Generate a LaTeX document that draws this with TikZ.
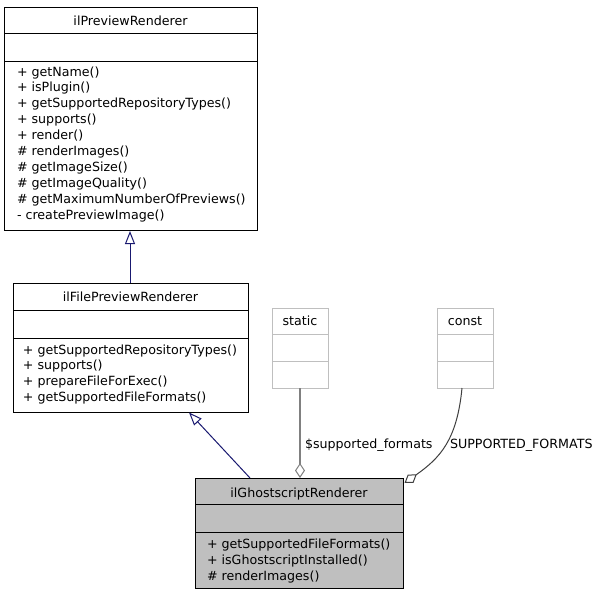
\documentclass[tikz,border=0pt]{standalone}
\usepackage{fontspec}
\setmainfont{DejaVu Sans}
\usetikzlibrary{arrows.meta}
\definecolor{navyedge}{HTML}{191970}
\definecolor{boxgray}{HTML}{BFBFBF}
\definecolor{litegray}{HTML}{BFBFBF}
\definecolor{aggline}{HTML}{808080}
\definecolor{aggdark}{HTML}{404040}
\tikzset{
  cls/.style={draw=black, line width=1pt, rectangle, inner sep=0pt, outer sep=0pt, anchor=north west},
  ghostcls/.style={cls, fill=boxgray},
  litecls/.style={cls, draw=litegray},
  sep/.style={line width=1pt},
  litesep/.style={line width=1pt, draw=litegray},
  txt/.style={font=\fontsize{12.65}{15}\selectfont, inner sep=0pt, outer sep=0pt},
  ttl/.style={txt, anchor=base},
  mtxt/.style={txt, anchor=base west},
  lbl/.style={txt, anchor=base west},
  inherit/.style={draw=navyedge, line width=1pt, -{Triangle[open, length=13pt, width=10pt]}},
  aggr/.style={line width=1.6pt, draw=aggline, {Diamond[open, length=15pt, width=10pt, line width=1pt]}-},
  aggrc/.style={line width=1pt, draw=aggdark, {Diamond[open, length=15pt, width=10pt]}-}
}
\begin{document}
\begin{tikzpicture}[x=1pt, y=-1pt]
\useasboundingbox (0,0) rectangle (600,597);
\fill[white] (0,0) rectangle (600,597);

% ilPreviewRenderer
\node[cls, minimum width=253pt, minimum height=223pt] (prev) at (4,7) {};
\draw[sep] (4,33) -- (257,33);
\draw[sep] (4,61) -- (257,61);
\node[ttl] (prevt) at (130.5,25) {ilPreviewRenderer};
\foreach \t [count=\i] in {+ getName(), + isPlugin(), + getSupportedRepositoryTypes(), + supports(), + render(), \# renderImages(), \# getImageSize(), \# getImageQuality(), \# getMaximumNumberOfPreviews(), - createPreviewImage()}
  \node[mtxt] (prevm\i) at (17,{76+15.9*(\i-1)}) {\t};

% ilFilePreviewRenderer
\node[cls, minimum width=235pt, minimum height=129pt] (file) at (13,283) {};
\draw[sep] (13,310) -- (248,310);
\draw[sep] (13,338) -- (248,338);
\node[ttl] (filet) at (130.5,301.5) {ilFilePreviewRenderer};
\foreach \t [count=\i] in {+ getSupportedRepositoryTypes(), + supports(), + prepareFileForExec(), + getSupportedFileFormats()}
  \node[mtxt] (filem\i) at (23,{354+15.9*(\i-1)}) {\t};

% static
\node[litecls, minimum width=56pt, minimum height=80pt] (stat) at (272,308) {};
\draw[litesep] (272,334) -- (328,334);
\draw[litesep] (272,361) -- (328,361);
\node[ttl] (statt) at (300,325.5) {static};

% const
\node[litecls, minimum width=56pt, minimum height=80pt] (cnst) at (437,308) {};
\draw[litesep] (437,334) -- (493,334);
\draw[litesep] (437,361) -- (493,361);
\node[ttl] (cnstt) at (465,325.5) {const};

% ilGhostscriptRenderer
\node[ghostcls, minimum width=208pt, minimum height=110pt] (ghost) at (195,478) {};
\draw[sep] (195,504) -- (403,504);
\draw[sep] (195,532) -- (403,532);
\node[ttl] (ghostt) at (299,497) {ilGhostscriptRenderer};
\foreach \t [count=\i] in {+ getSupportedFileFormats(), + isGhostscriptInstalled(), \# renderImages()}
  \node[mtxt] (ghostm\i) at (207,{548+16*(\i-1)}) {\t};

% connectors
\coordinate (c1) at (130,283);
\coordinate (c2) at (130,231);
\draw[inherit] (c1) -- (c2);

\coordinate (c3) at (250,478);
\coordinate (c4) at (189,412.5);
\draw[inherit] (c3) -- (c4);

\coordinate (c5) at (300,478);
\coordinate (c6) at (300,388);
\draw[aggr] (c5) -- (c6);
\node[lbl] (l1) at (305,448) {\$supported\_formats};

\coordinate (c7) at (404.5,483);
\coordinate (c8) at (462,388);
\draw[aggrc] (c7) .. controls (440,458) and (457,440) .. (c8);
\node[lbl] (l2) at (450,448) {SUPPORTED\_FORMATS};
\end{tikzpicture}
\end{document}
